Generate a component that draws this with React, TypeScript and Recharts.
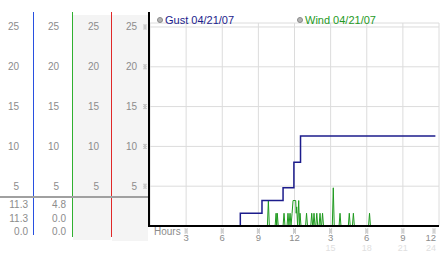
import React from 'react';
import {
  ComposedChart,
  Line,
  XAxis,
  YAxis,
  CartesianGrid,
  Legend,
} from 'recharts';

// hours are 0..24 from midnight, speeds in chart units
const hourTicks = [3, 6, 9, 12, 15, 18, 21, 24];
const valueTicks = [5, 10, 15, 20, 25];

const gustHours = [0, 7.5, 9.3, 11.05, 11.95, 12.5, 23.7];
const gustValues = [0, 1.6, 3.2, 4.8, 8.0, 11.3, 11.3];

const windHours = [
  0, 9.75, 9.83, 9.91, 10.39, 10.47, 10.52, 10.57, 10.65, 11.05, 11.13, 11.21,
  11.38, 11.46, 11.54, 11.63, 11.71, 11.8, 11.88, 12.1, 12.14, 12.18, 12.26,
  12.35, 12.41, 12.46, 12.54, 12.92, 13.0, 13.08, 13.35, 13.43, 13.51, 13.55,
  13.62, 13.7, 13.77, 13.85, 13.93, 14.04, 14.12, 14.2, 14.25, 14.33, 14.41,
  15.14, 15.22, 15.3, 15.7, 15.78, 15.86, 16.47, 16.55, 16.63, 16.81, 16.89,
  16.97, 18.15, 18.23, 18.31, 23.7,
];
const windValues = [
  0, 0, 3.2, 0, 0, 1.6, 0, 1.6, 0, 0, 1.6, 0,
  0, 1.6, 0, 1.6, 0, 1.6, 3.2, 3.2, 1.6, 2.4, 0,
  3.2, 0, 1.6, 0, 0, 1.6, 0, 0, 1.6, 0, 0,
  1.6, 0, 0, 1.6, 0, 0, 1.6, 0, 0, 1.6, 0,
  0, 4.8, 0, 0, 1.6, 0, 0, 1.6, 0, 0, 1.6,
  0, 0, 1.6, 0, 0,
];

// summary table under the left axes
const summaryGust = ['11.3', '11.3', '0.0'];
const summaryWind = ['4.8', '0.0', '0.0'];

const gustData = gustHours.map((h, i) => ({ h, v: gustValues[i] }));
const windData = windHours.map((h, i) => ({ h, v: windValues[i] }));

const FONT = '"Liberation Sans", Arial, sans-serif';
const GUST = '#1c1c8c';
const WIND = '#1f9a1f';
const TEXT = '#8c8c8c';

function Mark({ x, y }: { x: number; y: number }) {
  const dots = [
    [-1, -2], [1, -2], [0, -1], [-1, 0], [1, 0], [0, 1], [-1, 2], [1, 2],
  ];
  return (
    <g>
      {dots.map(([dx, dy], i) => (
        <rect key={i} x={x + dx - 0.5} y={y + dy - 0.5} width={1} height={1} fill="#9a9a9a" />
      ))}
    </g>
  );
}

function LeftTick(props: any) {
  const { y, payload } = props;
  const cols = [19, 59, 99, 137];
  return (
    <g>
      {cols.map((cx) => (
        <text key={cx} x={cx} y={y + 3.5} textAnchor="end" fontSize={10} fill={TEXT} fontFamily={FONT}>
          {payload.value}
        </text>
      ))}
      <Mark x={145} y={y} />
    </g>
  );
}

function HourTick(props: any) {
  const { x, payload } = props;
  const h = payload.value;
  const last = h === 24;
  const tx = last ? x + 2 : x;
  const anchor = last ? 'end' : 'middle';
  return (
    <g>
      <Mark x={x} y={231} />
      <text x={tx} y={241} textAnchor={anchor} fontSize={9.5} fill={TEXT} fontFamily={FONT}>
        {h > 12 ? h - 12 : h}
      </text>
      {h > 12 && (
        <text x={tx} y={251} textAnchor={anchor} fontSize={9} fill="#e0e0e0" fontFamily={FONT}>
          {h}
        </text>
      )}
    </g>
  );
}

function renderLegend() {
  const items = [
    { left: 157, color: GUST, label: 'Gust 04/21/07' },
    { left: 297, color: WIND, label: 'Wind 04/21/07' },
  ];
  return (
    <div style={{ position: 'relative', width: 442, height: 14 }}>
      {items.map((it) => (
        <div
          key={it.label}
          style={{
            position: 'absolute',
            left: it.left,
            top: 0,
            display: 'flex',
            alignItems: 'center',
            fontFamily: FONT,
            fontSize: 11,
            lineHeight: '14px',
            color: it.color,
            whiteSpace: 'nowrap',
          }}
        >
          <span
            style={{
              width: 6,
              height: 6,
              borderRadius: 3,
              background: '#b4b4b4',
              border: '1px solid #8a8a8a',
              marginRight: 2,
              boxSizing: 'border-box',
            }}
          />
          {it.label}
        </div>
      ))}
    </div>
  );
}

const vline = (x: number, color: string, top = 12, bottom = 236, w = 1) => (
  <div style={{ position: 'absolute', left: x, top, width: w, height: bottom - top, background: color }} />
);

export default function App() {
  return (
    <div
      style={{
        position: 'absolute',
        left: 0,
        top: 0,
        width: 442,
        height: 253,
        background: '#fff',
        overflow: 'hidden',
        fontFamily: FONT,
      }}
    >
      {/* shaded columns */}
      <div style={{ position: 'absolute', left: 73, top: 15, width: 38, height: 225, background: '#f4f4f4' }} />
      <div style={{ position: 'absolute', left: 112, top: 15, width: 36, height: 226, background: '#f4f4f4' }} />

      <div style={{ position: 'absolute', left: 0, top: 0 }}>
        <ComposedChart width={442} height={253} margin={{ top: 23, right: 3, bottom: 0, left: 0 }}>
          <CartesianGrid stroke="#dcdcdc" strokeWidth={1} />
          <XAxis
            dataKey="h"
            type="number"
            domain={[0, 24]}
            ticks={hourTicks}
            height={27}
            tick={<HourTick />}
            tickLine={false}
            axisLine={{ stroke: '#000', strokeWidth: 2 }}
            allowDuplicatedCategory={false}
          />
          <YAxis
            type="number"
            domain={[0, 25.5]}
            ticks={valueTicks}
            width={150}
            tick={<LeftTick />}
            tickLine={false}
            axisLine={false}
          />
          <Legend
            content={renderLegend}
            layout="horizontal"
            verticalAlign="middle"
            align="center"
            wrapperStyle={{ top: 13, left: 0, width: 442 }}
          />
          <Line
            data={windData}
            dataKey="v"
            name="Wind 04/21/07"
            type="linear"
            stroke={WIND}
            strokeWidth={1}
            dot={false}
            isAnimationActive={false}
          />
          <Line
            data={gustData}
            dataKey="v"
            name="Gust 04/21/07"
            type="stepAfter"
            stroke={GUST}
            strokeWidth={1.5}
            dot={false}
            isAnimationActive={false}
          />
        </ComposedChart>
      </div>

      {/* column separators */}
      {vline(33, '#2850e0', 12, 235)}
      {vline(72, '#30b030', 12, 237)}
      {vline(111, '#e02828', 12, 237)}
      {vline(148, '#000', 12, 227, 2)}

      {/* table separator */}
      <div style={{ position: 'absolute', left: 0, top: 196, width: 148, height: 2, background: '#a0a0a0' }} />

      {summaryGust.map((v, i) => (
        <div
          key={'g' + i}
          style={{ position: 'absolute', right: 442 - 28, top: 199 + i * 13.5, fontSize: 10, lineHeight: '12px', color: TEXT }}
        >
          {v}
        </div>
      ))}
      {summaryWind.map((v, i) => (
        <div
          key={'w' + i}
          style={{ position: 'absolute', right: 442 - 66, top: 199 + i * 13.5, fontSize: 10, lineHeight: '12px', color: TEXT }}
        >
          {v}
        </div>
      ))}

      <div style={{ position: 'absolute', left: 154, top: 226, fontSize: 10, lineHeight: '12px', color: TEXT }}>
        Hours
      </div>
    </div>
  );
}
